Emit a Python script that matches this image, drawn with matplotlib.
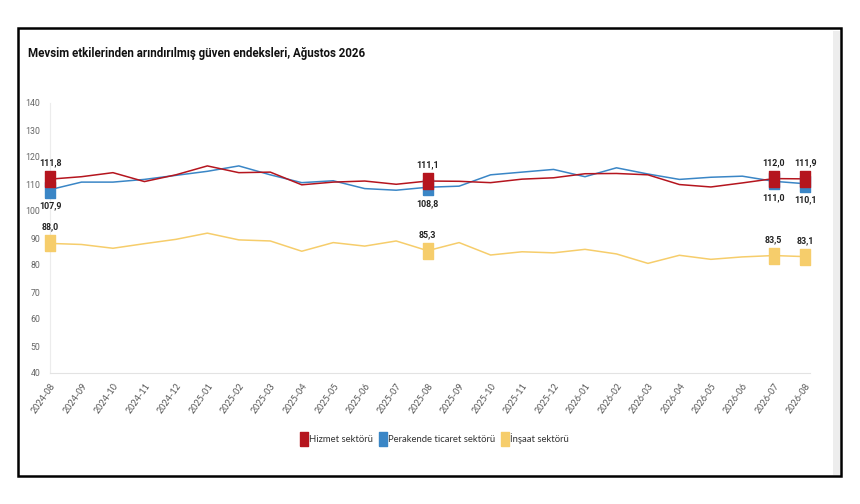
import matplotlib
matplotlib.use("Agg")
import matplotlib.pyplot as plt
from matplotlib.patches import Rectangle
from matplotlib.lines import Line2D

months = ['2024-08', '2024-09', '2024-10', '2024-11', '2024-12', '2025-01', '2025-02',
          '2025-03', '2025-04', '2025-05', '2025-06', '2025-07', '2025-08', '2025-09',
          '2025-10', '2025-11', '2025-12', '2026-01', '2026-02', '2026-03', '2026-04',
          '2026-05', '2026-06', '2026-07', '2026-08']

hizmet = [111.8, 112.7, 114.2, 110.9, 113.4, 116.7, 114.2, 114.4, 109.7, 110.7, 111.1, 109.9,
          111.1, 111.0, 110.5, 111.8, 112.3, 113.8, 113.9, 113.4, 109.8, 108.9, 110.4, 112.0, 111.9]
perakende = [107.9, 110.7, 110.7, 111.7, 113.2, 114.7, 116.7, 113.4, 110.5, 111.2, 108.3, 107.7,
             108.8, 109.2, 113.4, 114.4, 115.4, 112.7, 116.0, 113.7, 111.7, 112.5, 112.9, 111.0, 110.1]
insaat = [88.0, 87.6, 86.2, 87.9, 89.5, 91.8, 89.3, 88.9, 85.1, 88.3, 87.0, 88.9,
          85.3, 88.3, 83.7, 84.9, 84.5, 85.8, 84.1, 80.6, 83.6, 82.1, 83.0, 83.5, 83.1]

labeled = [0, 12, 23, 24]
series_names = ['Hizmet sektörü', 'Perakende ticaret sektörü', 'İnşaat sektörü']
colors = ['#b5151e', '#3a86c6', '#f6cd6b']

fig = plt.figure(figsize=(8.6, 5.04), dpi=100)
fig.patch.set_facecolor('white')

# frame around the card
fig.patches.append(Rectangle((18 / 860, 1 - 476 / 504), (841 - 18) / 860, (476 - 28) / 504,
                             transform=fig.transFigure, fill=False, edgecolor='black', lw=1.8))
fig.patches.append(Rectangle((833 / 860, 1 - 475 / 504), 7 / 860, (475 - 31) / 504,
                             transform=fig.transFigure, facecolor='#ededed', edgecolor='none'))

fig.text(28 / 860, 1 - 53 / 504, 'Mevsim etkilerinden arındırılmış güven endeksleri, Ağustos 2026',
         fontsize=8.3, fontweight='bold', family='Roboto', color='#111111', va='center')

ax = fig.add_axes([50 / 860, 1 - 373 / 504, (810 - 50) / 860, (373 - 103) / 504])
x = list(range(len(months)))

marker = [(-0.6, -1), (0.6, -1), (0.6, 1), (-0.6, 1), (-0.6, -1)]
order = [(insaat, 2), (perakende, 1), (hizmet, 0)]
for vals, i in order:
    ax.plot(x, vals, color=colors[i], lw=1.1, zorder=2 + (2 - i))
    ax.plot([x[k] for k in labeled], [vals[k] for k in labeled], linestyle='none',
            marker=marker, markersize=11, color=colors[i], zorder=5 + (2 - i), clip_on=False)


def fmt(v):
    return f'{v:.1f}'.replace('.', ',')


lab_kw = dict(textcoords='offset points', ha='center', fontsize=6.4, fontweight='bold',
              family='Roboto', color='#222222')
for k in labeled:
    ax.annotate(fmt(hizmet[k]), (k, hizmet[k]), xytext=(0, 8.5), va='bottom', **lab_kw)
    ax.annotate(fmt(perakende[k]), (k, perakende[k]), xytext=(0, -8.5), va='top', **lab_kw)
    ax.annotate(fmt(insaat[k]), (k, insaat[k]), xytext=(0, 8.5), va='bottom', **lab_kw)

ax.set_xlim(0, 24.15)
ax.set_ylim(40, 140)
ax.set_yticks(range(40, 141, 10))
ax.set_xticks(x)
ax.set_xticklabels(months, rotation=55, ha='right', rotation_mode='anchor')
ax.tick_params(axis='both', length=0, labelcolor='#666666')
ax.tick_params(axis='x', pad=6, labelsize=6.5)
ax.tick_params(axis='y', pad=7, labelsize=6.3)
for lab in ax.get_yticklabels():
    lab.set_family('Roboto')
for lab in ax.get_xticklabels():
    lab.set_family('Lato')
    lab.set_color('#555555')

for side in ['top', 'right']:
    ax.spines[side].set_visible(False)
ax.spines['left'].set_color('#ececec')
ax.spines['bottom'].set_color('#e3e3e3')
ax.spines['left'].set_linewidth(0.8)
ax.spines['bottom'].set_linewidth(0.8)

handles = [Line2D([], [], linestyle='none', marker=marker, markersize=10, color=c) for c in colors]
fig.legend(handles, series_names, loc='center', bbox_to_anchor=(434 / 860, 1 - 439 / 504),
           ncol=3, frameon=False, handletextpad=0.1, columnspacing=0.5, handlelength=1.0,
           prop={'family': 'Lato', 'size': 6.8}, labelcolor='#333333')

fig.savefig('out.png', dpi=100, facecolor='white')
